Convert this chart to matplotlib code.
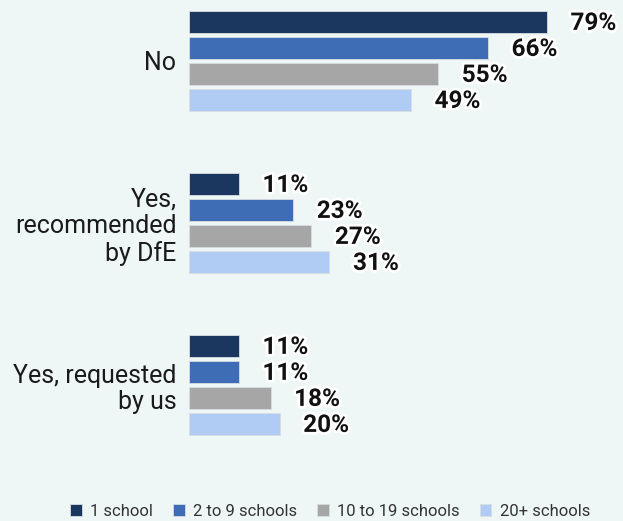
import numpy as np
import matplotlib.pyplot as plt
import matplotlib.patheffects as pe

plt.rcParams['font.family'] = ['Roboto', 'DejaVu Sans']

categories = ["No", "Yes,\nrecommended\nby DfE", "Yes, requested\nby us"]
series = ["1 school", "2 to 9 schools", "10 to 19 schools", "20+ schools"]
values = [
    [79, 11, 11],
    [66, 23, 11],
    [55, 27, 18],
    [49, 31, 20],
]
colors = ["#1b365f", "#3e6db6", "#a6a6a6", "#b0cbf4"]
bg = "#eef7f6"

fig = plt.figure(figsize=(6.23, 5.21), dpi=100, facecolor=bg)
ax = fig.add_axes([189 / 623, 1 - 470 / 521, 1 - 189 / 623, 470 / 521])
ax.set_facecolor(bg)

pitch = 26 / 162
height = 22 / 162
offsets = (np.arange(len(series)) - 1.5) * pitch
y = np.arange(len(categories))

for k, name in enumerate(series):
    ax.barh(y + offsets[k], values[k], height=height, color=colors[k],
            edgecolor="#d8dde0", linewidth=0.6, label=name)
    for yy, v in zip(y + offsets[k], values[k]):
        t = ax.annotate(f"{v}%", (v, yy), xytext=(17, -1), textcoords="offset points",
                        ha="left", va="center", fontsize=17.5, fontweight="bold",
                        color="#111111")
        t.set_path_effects([pe.withStroke(linewidth=4, foreground="white")])

ax.set_xlim(0, (623 - 189) / 4.53)
ax.set_ylim(409 / 162, -61 / 162)
ax.set_yticks(y)
ax.set_yticklabels(categories, fontsize=18, color="#1a1a1a", ha="right",
                   linespacing=1.12)
ax.tick_params(axis="y", length=0, pad=9)
ax.set_xticks([])
for s in ax.spines.values():
    s.set_visible(False)

fig.legend(loc="center", bbox_to_anchor=(330 / 623, 1 - 511 / 521), ncol=4,
           frameon=False, fontsize=12, handlelength=0.7, handleheight=0.7,
           handletextpad=0.5, columnspacing=1.2, labelcolor="#333333")

fig.savefig("out.png", dpi=100, facecolor=bg)
